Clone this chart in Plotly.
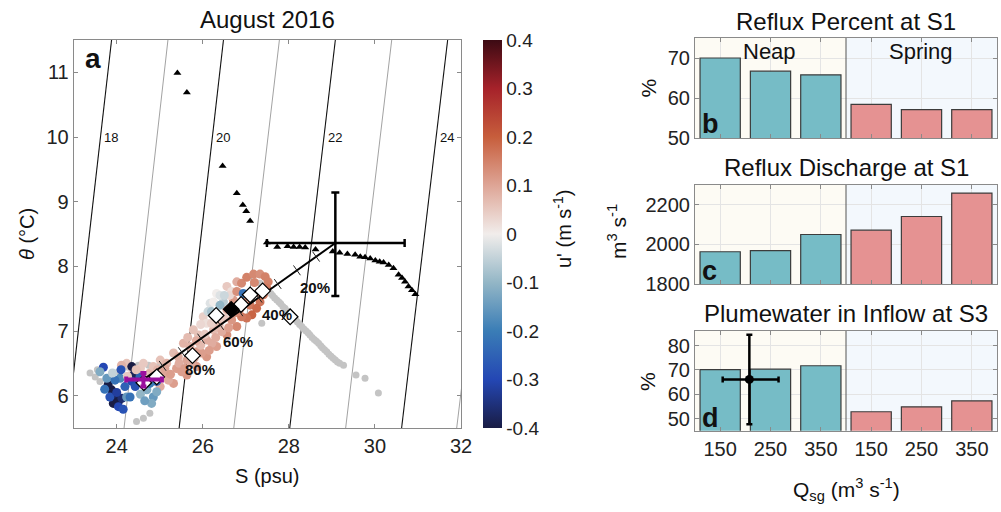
import plotly.graph_objects as go

W, H = 1001, 512
FONT = "Liberation Sans, Arial, Helvetica, sans-serif"

# ---------------- panel a : isopycnals ----------------
iso_levels = [18, 19, 20, 21, 22, 23, 24, 25]
iso_S_top = [23.88, 25.19, 26.48, 27.78, 29.08, 30.39, 31.69, 32.99]   # S at theta = 11.5
iso_S_bot = [22.85, 24.17, 25.45, 26.72, 28.02, 29.32, 30.62, 31.90]   # S at theta = 5.5
iso_T_top = 11.5
iso_T_bot = 5.5
iso_label_T = 10.0
iso_labeled = [18, 20, 22, 24]

# ---------------- panel a : outer-fjord profile (triangles) ----------------
tri_S = [25.41, 25.63, 26.46, 26.79, 26.93, 27.01, 27.10, 27.49, 27.73, 27.97, 28.11, 28.25,
         28.38, 28.62, 29.02, 29.18, 29.36, 29.54, 29.66, 29.77, 29.89, 30.01, 30.11, 30.20,
         30.32, 30.43, 30.55, 30.63, 30.70, 30.78, 30.86, 30.94]
tri_T = [10.99, 10.69, 9.55, 9.13, 8.95, 8.85, 8.70, 8.37, 8.30, 8.31, 8.30, 8.30,
         8.29, 8.26, 8.23, 8.21, 8.19, 8.18, 8.15, 8.14, 8.12, 8.09, 8.07, 8.06,
         8.02, 7.97, 7.87, 7.82, 7.76, 7.69, 7.63, 7.57]

# ---------------- panel a : points without velocity (grey) ----------------
gray_S = [23.38, 23.50, 23.61, 23.55, 24.04, 24.27, 24.50, 24.74, 24.97, 24.46, 24.62, 24.77,
          27.33, 27.38, 27.43, 27.48, 27.53, 27.58, 27.62, 27.67, 27.72, 27.77, 27.81, 27.86,
          27.91, 27.96, 28.01, 28.06, 28.11, 28.16, 28.20, 28.25, 28.30, 28.35, 28.40, 28.45,
          28.49, 28.54, 28.59, 28.64, 28.69, 28.74, 28.78, 28.83, 28.88, 28.93, 28.98, 29.03,
          29.08, 29.13, 29.18, 29.27, 29.56, 29.77, 30.08, 27.37]
gray_T = [6.35, 6.29, 6.22, 6.40, 6.37, 6.44, 6.47, 6.47, 6.45, 5.60, 5.65, 5.73,
          7.74, 7.71, 7.68, 7.64, 7.61, 7.58, 7.55, 7.51, 7.48, 7.45, 7.42, 7.38,
          7.35, 7.31, 7.27, 7.24, 7.20, 7.17, 7.14, 7.10, 7.07, 7.03, 7.00, 6.97,
          6.94, 6.90, 6.87, 6.84, 6.81, 6.77, 6.74, 6.71, 6.68, 6.64, 6.61, 6.58,
          6.55, 6.52, 6.50, 6.47, 6.32, 6.27, 6.04, 7.12]

# ---------------- panel a : points coloured by u' ----------------
u_S = [
    # band centre
    24.46, 24.77, 25.08, 25.39, 25.63, 25.86, 26.09, 26.25, 26.40, 26.56, 26.71,
    # band upper edge
    24.23, 24.62, 25.01, 25.32, 25.55, 25.78, 26.01, 26.17, 26.32, 26.56, 26.79,
    # band lower edge
    25.01, 25.32, 25.63, 25.86, 26.09, 26.32, 26.56, 26.79,
    # between centre and upper edge
    24.35, 24.85, 25.16, 25.43, 25.70, 25.90, 26.09, 26.28, 26.48, 26.67,
    # between centre and lower edge
    24.89, 25.20, 25.51, 25.74, 25.97, 26.21, 26.44, 26.67, 26.87,
    # further points inside the band
    24.55, 24.70, 24.95, 25.12, 25.25, 25.45, 25.58, 25.80, 25.95, 26.05, 26.15, 26.30, 26.38, 26.50,
    26.60, 26.75, 26.62, 26.40, 26.25, 26.12, 25.95, 25.65, 25.85, 26.20, 26.95, 27.20, 27.30, 27.10,
    # upper loop
    26.71, 26.79, 26.90, 27.02, 27.18, 27.33, 27.45, 27.52, 27.49, 27.41, 27.33, 27.25, 27.14, 27.02, 26.90, 26.83,
    # pale patch and single blue dot
    26.20, 26.40, 26.50, 24.11, 26.94,
    # cold fresh cluster
    23.69, 23.80, 23.88, 23.96, 24.04, 24.12, 23.92, 24.04, 24.15, 23.84, 24.35, 24.39,
    24.35, 24.43, 24.93, 23.77, 24.23, 24.70, 24.85, 24.93, 24.81, 23.61, 24.08, 23.96,
    24.19, 24.31, 24.54, 24.77, 24.00, 23.72, 24.10, 24.55, 24.65, 24.25, 24.45, 23.90]
u_T = [
    6.37, 6.35, 6.32, 6.42, 6.55, 6.68, 6.86, 7.02, 7.17, 7.33, 7.48,
    6.50, 6.50, 6.55, 6.66, 6.81, 7.02, 7.22, 7.43, 7.58, 7.69, 7.76,
    6.14, 6.19, 6.32, 6.45, 6.60, 6.76, 6.94, 7.07,
    6.42, 6.45, 6.50, 6.60, 6.76, 6.94, 7.12, 7.27, 7.45, 7.61,
    6.22, 6.24, 6.37, 6.50, 6.66, 6.81, 6.99, 7.17, 7.35,
    6.42, 6.30, 6.40, 6.42, 6.33, 6.50, 6.42, 6.58, 6.78, 6.95, 6.70, 6.90, 7.08, 7.20,
    7.05, 7.28, 7.55, 7.55, 7.45, 7.30, 7.10, 6.90, 6.85, 7.12, 7.50, 7.75, 7.60, 7.40,
    7.43, 7.61, 7.74, 7.83, 7.88, 7.88, 7.84, 7.76, 7.66, 7.56, 7.45, 7.35, 7.25, 7.20, 7.22, 7.30,
    7.30, 7.40, 7.55, 6.47, 7.58,
    6.44, 6.17, 6.09, 5.98, 5.91, 5.96, 5.88, 5.83, 5.79, 5.98, 6.45, 6.32,
    6.22, 6.14, 6.22, 6.27, 5.98, 6.09, 5.98, 6.06, 5.88, 6.37, 6.27, 6.24,
    6.14, 5.98, 6.29, 6.19, 6.05, 6.10, 6.40, 6.02, 5.92, 6.30, 6.40, 6.35]
u_vel = [
    0.04, 0.08, 0.10, 0.11, 0.10, 0.11, 0.09, 0.07, 0.05, 0.09, 0.11,
    0.06, 0.05, 0.06, 0.07, 0.08, 0.06, 0.04, -0.02, 0.00, 0.05, 0.09,
    0.09, 0.11, 0.12, 0.11, 0.12, 0.11, 0.13, 0.14,
    0.04, 0.06, 0.08, 0.09, 0.08, 0.06, 0.02, -0.05, -0.06, 0.02,
    0.06, 0.09, 0.11, 0.09, 0.11, 0.09, 0.09, 0.12, 0.13,
    0.05, 0.06, 0.08, 0.10, 0.11, 0.09, 0.11, 0.09, 0.07, 0.05, 0.11, 0.09, 0.07, 0.05,
    0.11, 0.12, 0.03, -0.02, 0.00, -0.04, 0.03, 0.07, 0.09, 0.04, 0.13, 0.14, 0.15, 0.16,
    0.12, 0.13, 0.14, 0.15, 0.14, 0.13, 0.15, 0.15, 0.16, 0.16, 0.17, 0.18, 0.19, 0.17, 0.16, 0.14,
    -0.08, -0.10, -0.04, 0.08, -0.22,
    -0.30, -0.40, -0.40, -0.38, -0.40, -0.36, -0.40, -0.30, -0.28, -0.28, -0.40, -0.38,
    -0.30, -0.28, -0.25, -0.15, -0.15, -0.12, -0.15, -0.12, -0.12, -0.12, -0.18, -0.22,
    -0.25, -0.22, -0.25, -0.20, -0.32, -0.22, -0.28, -0.10, -0.14, 0.05, 0.06, -0.05]

# ---------------- panel a : mixing line, end members, samples ----------------
ambient_S, ambient_T = 29.08, 8.36           # ambient water end member
ambient_S_err = (1.59, 1.61)                 # minus, plus
ambient_T_err = (0.82, 0.78)
plume_S, plume_T = 24.62, 6.25               # plume end member
plume_S_err = (0.40, 0.43)
plume_T_err = (0.11, 0.10)
mix_fracs = [0.1, 0.2, 0.3, 0.4, 0.5, 0.6, 0.7, 0.8, 0.9]
mix_labels = {0.2: "20%", 0.4: "40%", 0.6: "60%", 0.8: "80%"}

dia_S = [24.63, 24.93, 25.76, 26.31, 26.89, 27.10, 27.39, 28.03]
dia_T = [6.20, 6.29, 6.62, 7.24, 7.41, 7.56, 7.62, 7.22]
dia_black_S = [26.66]
dia_black_T = [7.335]

u_ticks = [-0.4, -0.3, -0.2, -0.1, 0, 0.1, 0.2, 0.3, 0.4]
u_ticktext = ["-0.4", "-0.3", "-0.2", "-0.1", "0", "0.1", "0.2", "0.3", "0.4"]

# ---------------- panels b-d ----------------
cat_pos = [1, 2, 3, 4, 5, 6]
qsg_labels = ["150", "250", "350", "150", "250", "350"]
tide = ["Neap", "Neap", "Neap", "Spring", "Spring", "Spring"]
reflux_pct = [70.0, 66.7, 65.8, 58.4, 57.1, 57.1]
reflux_q = [1963, 1969, 2050, 2072, 2141, 2259]
plume_inflow = [70.1, 70.3, 71.7, 52.8, 54.8, 57.3]
obs_x, obs_y = 1.58, 66.1
obs_x_err = (0.53, 0.58)
obs_y_err = (18.4, 18.4)

# ---------------- layout geometry (pixels) ----------------
A_L, A_R, A_T, A_B = 73.7, 461.0, 40.0, 428.0
R_L, R_R = 695.0, 997.0
B_T, B_B = 38.0, 138.0
C_T, C_B = 185.0, 284.0
D_T, D_B = 331.0, 430.7
a_xr = [23, 32]
a_yr = [5.5, 11.5]


def px(x):
    return x / W


def py(y):
    return 1 - y / H


teal, pink = "#76bcc6", "#e59292"
bar_colors = [teal if t == "Neap" else pink for t in tide]
cs = [[0.0, "#191c44"], [0.125, "#2447b4"], [0.25, "#3a7db6"], [0.375, "#93b6c6"],
      [0.5, "#f1edeb"], [0.625, "#dea596"], [0.75, "#c75e3c"], [0.875, "#a6222a"], [1.0, "#3c0a13"]]

fig = go.Figure()

# isopycnals
for lev, st, sb in zip(iso_levels, iso_S_top, iso_S_bot):
    even = lev % 2 == 0
    fig.add_trace(go.Scatter(x=[sb, st], y=[iso_T_bot, iso_T_top], mode="lines",
                             line=dict(color="#111111" if even else "#8a8a8a", width=1.1 if even else 0.8),
                             hoverinfo="skip", showlegend=False, xaxis="x", yaxis="y"))

# grey points
fig.add_trace(go.Scatter(x=gray_S, y=gray_T, mode="markers",
                         marker=dict(color="#c4c4c4", size=7, line=dict(width=0)),
                         showlegend=False, xaxis="x", yaxis="y"))

# coloured points
fig.add_trace(go.Scatter(
    x=u_S, y=u_T, mode="markers", showlegend=False, xaxis="x", yaxis="y",
    marker=dict(color=u_vel, colorscale=cs, cmin=-0.4, cmax=0.4, size=9, line=dict(width=0),
                showscale=True,
                colorbar=dict(x=px(482.7), xanchor="left", y=py(A_B), yanchor="bottom",
                              len=(A_B - A_T) / H, lenmode="fraction", thickness=19,
                              thicknessmode="pixels", outlinewidth=0, xpad=0, ypad=0,
                              tickvals=u_ticks, ticktext=u_ticktext, ticks="",
                              tickfont=dict(size=19, family=FONT, color="#222"))),
))

# triangles
fig.add_trace(go.Scatter(x=tri_S, y=tri_T, mode="markers",
                         marker=dict(symbol="triangle-up", color="black", size=7),
                         showlegend=False, xaxis="x", yaxis="y"))

# mixing line
fig.add_trace(go.Scatter(x=[plume_S, ambient_S], y=[plume_T, ambient_T], mode="lines",
                         line=dict(color="black", width=2), showlegend=False, xaxis="x", yaxis="y"))

# perpendicular dashes at each 10 % plume fraction
sx = (A_R - A_L) / (a_xr[1] - a_xr[0])   # px per psu
sy = (A_B - A_T) / (a_yr[1] - a_yr[0])   # px per degC
vx = (plume_S - ambient_S) * sx
vy = (plume_T - ambient_T) * sy
vn = (vx ** 2 + vy ** 2) ** 0.5
nx, ny = -vy / vn, vx / vn
half = 6.0
dash_x, dash_y = [], []
for f in mix_fracs:
    cx = ambient_S + f * (plume_S - ambient_S)
    cy = ambient_T + f * (plume_T - ambient_T)
    dash_x += [cx - nx * half / sx, cx + nx * half / sx, None]
    dash_y += [cy - ny * half / sy, cy + ny * half / sy, None]
fig.add_trace(go.Scatter(x=dash_x, y=dash_y, mode="lines", line=dict(color="#222", width=1),
                         showlegend=False, xaxis="x", yaxis="y"))

# diamonds
fig.add_trace(go.Scatter(x=dia_S, y=dia_T, mode="markers",
                         marker=dict(symbol="diamond", color="white", size=12,
                                     line=dict(color="black", width=1.2)),
                         showlegend=False, xaxis="x", yaxis="y"))
fig.add_trace(go.Scatter(x=dia_black_S, y=dia_black_T, mode="markers",
                         marker=dict(symbol="diamond", color="black", size=12,
                                     line=dict(color="black", width=1.2)),
                         showlegend=False, xaxis="x", yaxis="y"))

# ambient end member with error bars
fig.add_trace(go.Scatter(
    x=[ambient_S], y=[ambient_T], mode="markers", marker=dict(color="black", size=3),
    error_x=dict(type="data", symmetric=False, array=[ambient_S_err[1]], arrayminus=[ambient_S_err[0]],
                 color="black", thickness=2.5, width=4),
    error_y=dict(type="data", symmetric=False, array=[ambient_T_err[1]], arrayminus=[ambient_T_err[0]],
                 color="black", thickness=2.5, width=4),
    showlegend=False, xaxis="x", yaxis="y"))

# plume end member
fig.add_trace(go.Scatter(
    x=[plume_S], y=[plume_T], mode="markers", marker=dict(color="#9a0f9d", size=4),
    error_x=dict(type="data", symmetric=False, array=[plume_S_err[1]], arrayminus=[plume_S_err[0]],
                 color="#9a0f9d", thickness=4, width=3),
    error_y=dict(type="data", symmetric=False, array=[plume_T_err[1]], arrayminus=[plume_T_err[0]],
                 color="#9a0f9d", thickness=4, width=3),
    showlegend=False, xaxis="x", yaxis="y"))

# ---------------- bars ----------------
for vals, xa, ya in [(reflux_pct, "x2", "y2"), (reflux_q, "x3", "y3"), (plume_inflow, "x4", "y4")]:
    fig.add_trace(go.Bar(x=cat_pos, y=vals, width=0.8, marker=dict(color=bar_colors,
                         line=dict(color="#3c3c3c", width=1.2)), showlegend=False, xaxis=xa, yaxis=ya))

fig.add_trace(go.Scatter(
    x=[obs_x], y=[obs_y], mode="markers", marker=dict(color="black", size=9),
    error_x=dict(type="data", symmetric=False, array=[obs_x_err[1]], arrayminus=[obs_x_err[0]],
                 color="black", thickness=2.5, width=3),
    error_y=dict(type="data", symmetric=False, array=[obs_y_err[1]], arrayminus=[obs_y_err[0]],
                 color="black", thickness=2.5, width=3),
    showlegend=False, xaxis="x4", yaxis="y4"))

# ---------------- axes ----------------
axcommon = dict(showline=True, linecolor="#8a8a8a", linewidth=1, mirror="ticks", ticks="inside",
                ticklen=4, tickcolor="#8a8a8a", zeroline=False, automargin=False,
                tickfont=dict(size=20, family=FONT, color="#222"))

layout = dict(
    width=W, height=H, margin=dict(l=0, r=0, t=0, b=0, autoexpand=False),
    paper_bgcolor="white", plot_bgcolor="rgba(0,0,0,0)",
    font=dict(family=FONT, color="#222"), showlegend=False, bargap=0.2,
    xaxis=dict(domain=[px(A_L), px(A_R)], range=a_xr, tickvals=[24, 26, 28, 30, 32], showgrid=False,
               anchor="y", **axcommon),
    yaxis=dict(domain=[py(A_B), py(A_T)], range=a_yr, tickvals=[6, 7, 8, 9, 10, 11], showgrid=False,
               anchor="x", **axcommon),
)
right_axes = [("2", B_T, B_B, [50, 75], [50, 60, 70]),
              ("3", C_T, C_B, [1800, 2300], [1800, 2000, 2200]),
              ("4", D_T, D_B, [45, 86], [50, 60, 70, 80])]
for k, top, bot, yr, yt in right_axes:
    layout["xaxis" + k] = dict(domain=[px(R_L), px(R_R)], range=[0.5, 6.5], tickvals=cat_pos,
                               ticktext=qsg_labels, showticklabels=(k == "4"), showgrid=True,
                               gridcolor="#e4e4e4", gridwidth=1, anchor="y" + k, **axcommon)
    layout["yaxis" + k] = dict(domain=[py(bot), py(top)], range=yr, tickvals=yt, showgrid=True,
                               gridcolor="#e4e4e4", gridwidth=1, anchor="x" + k, **axcommon)
fig.update_layout(**layout)

# shading for neap / spring
shapes = []
for k, top, bot, yr, yt in right_axes:
    shapes.append(dict(type="rect", xref="x" + k, yref="y" + k + " domain", x0=0.5, x1=3.5, y0=0, y1=1,
                       fillcolor="#fdfbf4", line=dict(width=0), layer="below"))
    shapes.append(dict(type="rect", xref="x" + k, yref="y" + k + " domain", x0=3.5, x1=6.5, y0=0, y1=1,
                       fillcolor="#f3f8fd", line=dict(width=0), layer="below"))
    shapes.append(dict(type="line", xref="x" + k, yref="y" + k + " domain", x0=3.5, x1=3.5, y0=0, y1=1,
                       line=dict(color="#555555", width=1), layer="above"))
fig.update_layout(shapes=shapes)

# ---------------- annotations ----------------
ann = []


def txt(x, y, s, size, xanchor="center", yanchor="middle", **kw):
    d = dict(x=x, y=y, xref="paper", yref="paper", text=s, showarrow=False,
             xanchor=xanchor, yanchor=yanchor,
             font=dict(size=size, family=FONT, color=kw.pop("color", "#111")))
    d.update(kw)
    ann.append(d)


# isopycnal labels
for lev, st, sb in zip(iso_levels, iso_S_top, iso_S_bot):
    if lev in iso_labeled:
        s_lab = sb + (st - sb) * (iso_label_T - iso_T_bot) / (iso_T_top - iso_T_bot)
        ann.append(dict(x=s_lab, y=iso_label_T, xref="x", yref="y", text=str(lev), showarrow=False,
                        xanchor="left", yanchor="middle", xshift=2,
                        font=dict(size=13, family=FONT, color="#111")))
# mixing fraction labels
for f, lab in mix_labels.items():
    cx = ambient_S + f * (plume_S - ambient_S)
    cy = ambient_T + f * (plume_T - ambient_T)
    ann.append(dict(x=cx, y=cy, xref="x", yref="y", text="<b>%s</b>" % lab, showarrow=False,
                    xanchor="center", yanchor="middle",
                    xshift=18, yshift=-17, font=dict(size=15, family=FONT, color="#111")))

txt(px(267), py(19), "August 2016", 24)
txt(px(267), py(476), "S (psu)", 20)
txt(px(27), py(234), "<i>θ</i> (°C)", 20, textangle=-90)
txt(px(562), py(229), "u' (m s<sup>-1</sup>)", 20, textangle=-90)
txt(px(83), py(58), "<b>a</b>", 28, xanchor="left")

cx_mid = (R_L + R_R) / 2
txt(px(cx_mid), py(21.7), "Reflux Percent at S1", 24)
txt(px(cx_mid), py(167), "Reflux Discharge at S1", 24)
txt(px(cx_mid), py(313), "Plumewater in Inflow at S3", 24)
txt(px(769.5), py(51), "Neap", 22)
txt(px(921), py(51), "Spring", 22)
txt(px(647.5), py(88), "%", 21, textangle=-90)
txt(px(617), py(232), "m<sup>3</sup> s<sup>-1</sup>", 21, textangle=-90)
txt(px(647), py(382), "%", 21, textangle=-90)
txt(px(846), py(489), "Q<sub>sg</sub> (m<sup>3</sup> s<sup>-1</sup>)", 21)
txt(px(700), py(124), "<b>b</b>", 27, xanchor="left")
txt(px(700), py(271), "<b>c</b>", 27, xanchor="left")
txt(px(700), py(418), "<b>d</b>", 27, xanchor="left")

fig.update_layout(annotations=ann)
fig.write_html("out.html")
